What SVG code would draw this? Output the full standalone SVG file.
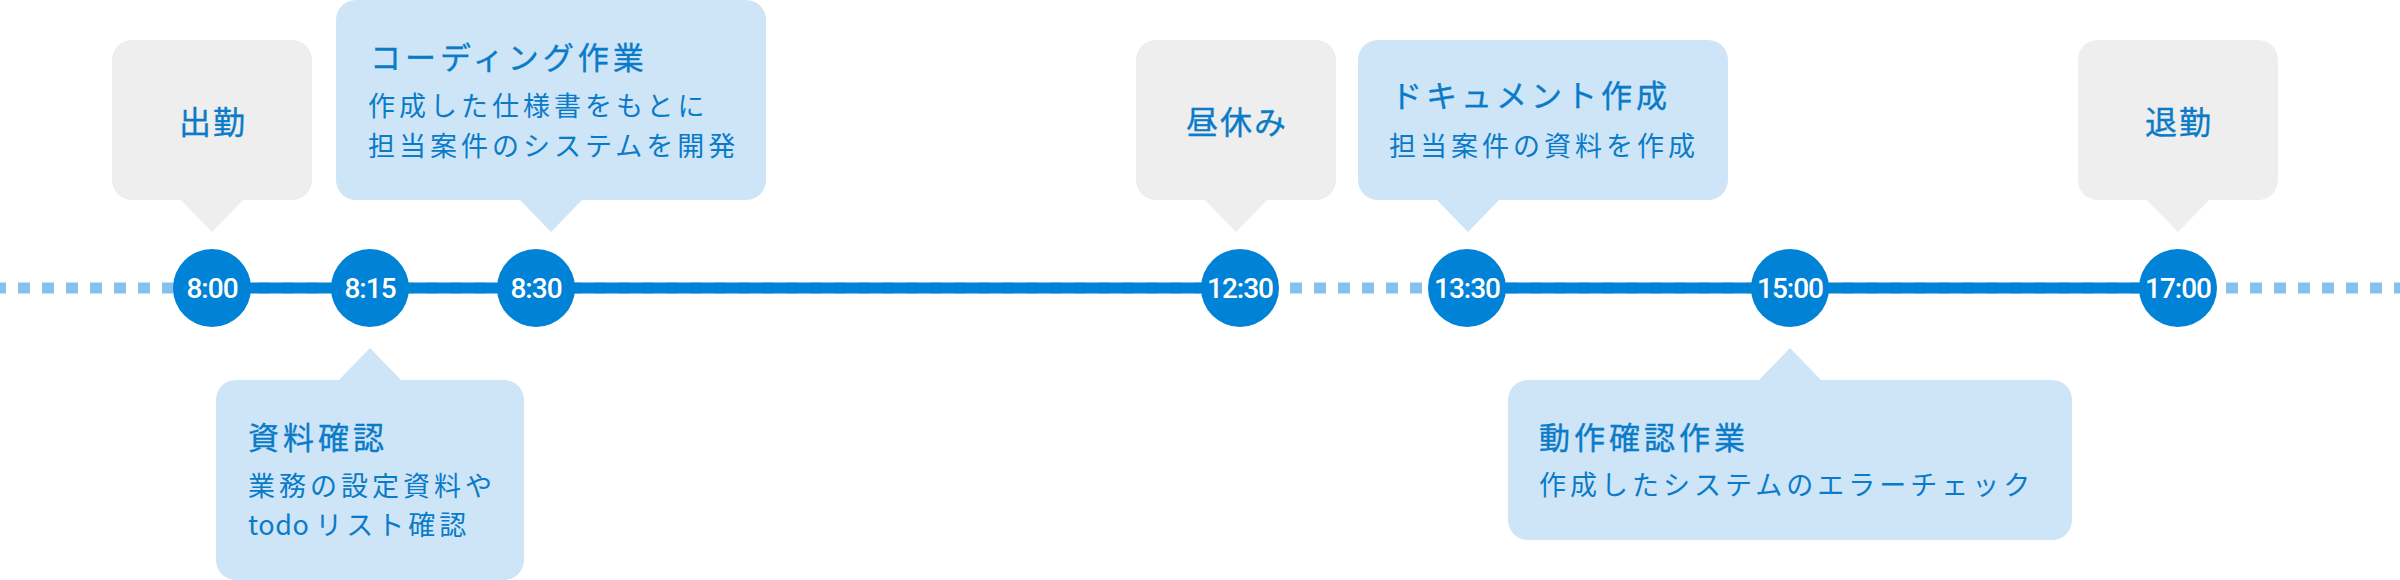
<svg xmlns="http://www.w3.org/2000/svg" width="2400" height="580" viewBox="0 0 2400 580">
<style>
.grey{fill:#eeeeee}
.blue{fill:#cee5f7}
.jp{font-family:"Noto Sans CJK JP","Noto Sans",sans-serif;fill:#0a7bc8}
.ttl{font-size:31px;font-weight:400;letter-spacing:4px;stroke:#0a7bc8;stroke-width:0.35px}
.one{font-size:32px;font-weight:400;letter-spacing:2px;text-anchor:middle;stroke:#0a7bc8;stroke-width:0.35px}
.body{font-size:27px;font-weight:400;letter-spacing:4px}
.lat{letter-spacing:0.5px}
.dot{fill:#0082d6}
.time{font-family:Roboto,"Liberation Sans",sans-serif;font-size:28px;font-weight:500;fill:#ffffff;text-anchor:middle;letter-spacing:-1px}
.dash{stroke:#85c1ea;stroke-width:11;stroke-dasharray:12 12}
.solid{stroke:#0082d6;stroke-width:11}
</style>
<g id="connectors">
<line class="dash" x1="-6" y1="288" x2="2400" y2="288"/>
<line class="solid" x1="212" y1="288" x2="1240" y2="288"/>
<line class="solid" x1="1467" y1="288" x2="2178" y2="288"/>
</g>
<g id="t0800"><circle class="dot" cx="212" cy="288" r="39"/><text class="time" x="212" y="298">8:00</text></g>
<g id="t0815"><circle class="dot" cx="370" cy="288" r="39"/><text class="time" x="370" y="298">8:15</text></g>
<g id="t0830"><circle class="dot" cx="536" cy="288" r="39"/><text class="time" x="536" y="298">8:30</text></g>
<g id="t1230"><circle class="dot" cx="1240" cy="288" r="39"/><text class="time" x="1240" y="298">12:30</text></g>
<g id="t1330"><circle class="dot" cx="1467" cy="288" r="39"/><text class="time" x="1467" y="298">13:30</text></g>
<g id="t1500"><circle class="dot" cx="1790" cy="288" r="39"/><text class="time" x="1790" y="298">15:00</text></g>
<g id="t1700"><circle class="dot" cx="2178" cy="288" r="39"/><text class="time" x="2178" y="298">17:00</text></g>
<g id="box-shukkin">
<rect class="grey" x="112" y="40" width="200" height="160" rx="20"/>
<polygon class="grey" points="180,199 244,199 212,232"/>
<text class="jp one" x="213" y="134">出勤</text>
</g>
<g id="box-coding">
<rect class="blue" x="336" y="0" width="430" height="200" rx="20"/>
<polygon class="blue" points="519,199 583,199 551,232"/>
<text class="jp ttl" x="370" y="69">コーディング作業</text>
<text class="jp body" x="368" y="116">作成した仕様書をもとに</text>
<text class="jp body" x="368" y="156">担当案件のシステムを開発</text>
</g>
<g id="box-shiryo">
<rect class="blue" x="216" y="380" width="308" height="200" rx="20"/>
<polygon class="blue" points="338,381 402,381 370,348"/>
<text class="jp ttl" x="248" y="449">資料確認</text>
<text class="jp body" x="248" y="496">業務の設定資料や</text>
<text class="jp body" x="248" y="535"><tspan class="lat">todo</tspan><tspan dx="6">リスト確認</tspan></text>
</g>
<g id="box-hiru">
<rect class="grey" x="1136" y="40" width="200" height="160" rx="20"/>
<polygon class="grey" points="1204,199 1268,199 1236,232"/>
<text class="jp one" x="1237" y="134">昼休み</text>
</g>
<g id="box-doc">
<rect class="blue" x="1358" y="40" width="370" height="160" rx="20"/>
<polygon class="blue" points="1436,199 1500,199 1468,232"/>
<text class="jp ttl" x="1391" y="107">ドキュメント作成</text>
<text class="jp body" x="1389" y="156">担当案件の資料を作成</text>
</g>
<g id="box-check">
<rect class="blue" x="1508" y="380" width="564" height="160" rx="20"/>
<polygon class="blue" points="1758,381 1822,381 1790,348"/>
<text class="jp ttl" x="1539" y="449">動作確認作業</text>
<text class="jp body" x="1539" y="495">作成したシステムのエラーチェック</text>
</g>
<g id="box-taikin">
<rect class="grey" x="2078" y="40" width="200" height="160" rx="20"/>
<polygon class="grey" points="2146,199 2210,199 2178,232"/>
<text class="jp one" x="2179" y="134">退勤</text>
</g>
</svg>
